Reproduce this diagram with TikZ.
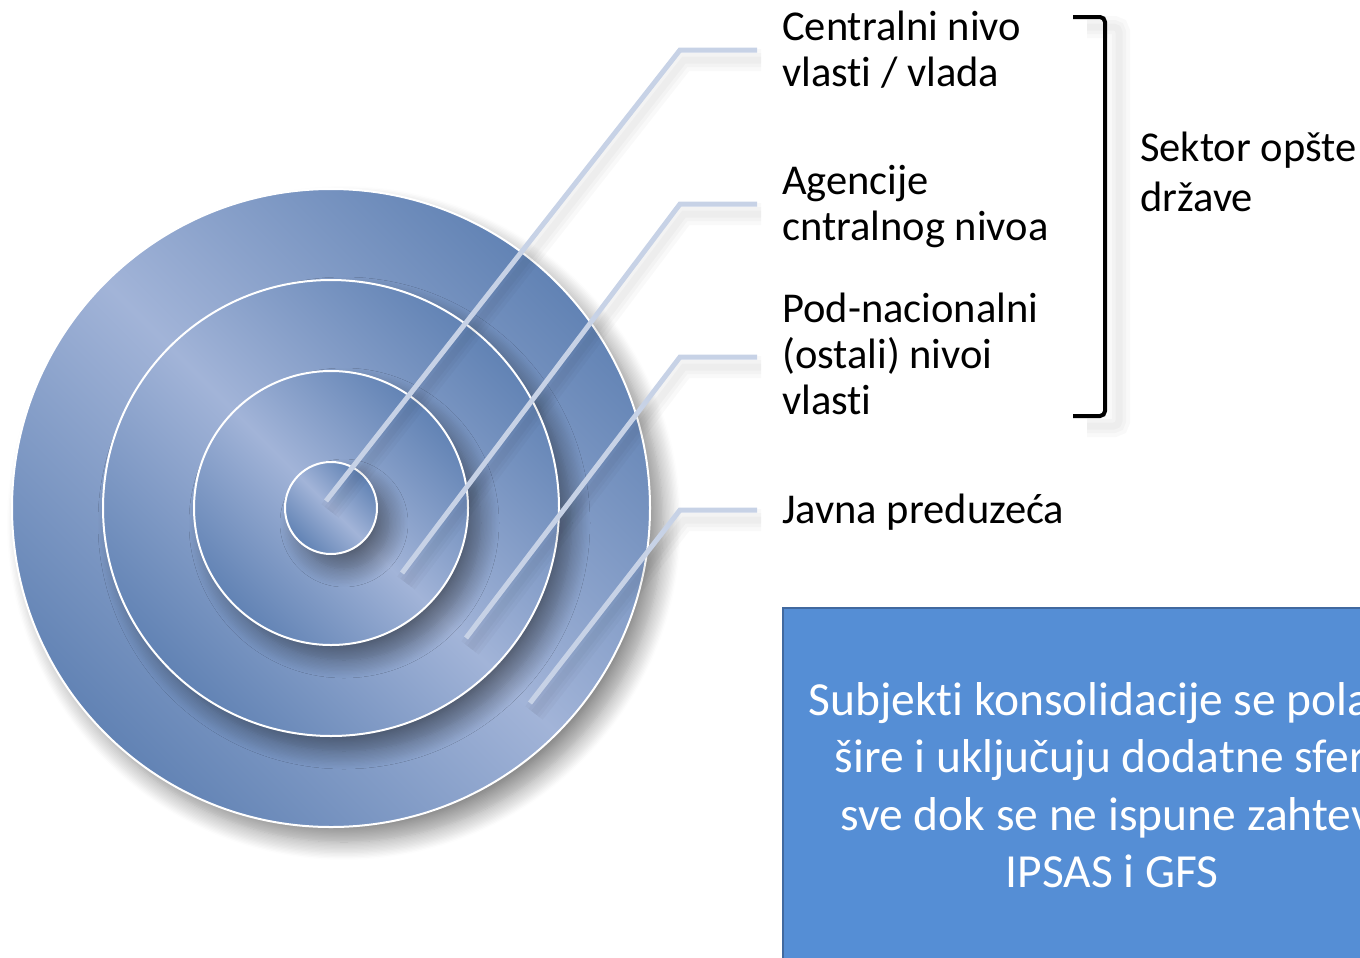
\documentclass[tikz,border=0pt]{standalone}
\usepackage{fontspec}
\setmainfont{Carlito}[Ligatures=NoCommon]
\usetikzlibrary{shadows.blur}
\definecolor{ringdark}{HTML}{5A7DB0}
\definecolor{ringlight}{HTML}{A2B4D8}
\definecolor{leadercol}{HTML}{C7D2E6}
\definecolor{notefill}{HTML}{558ED5}
\definecolor{notedraw}{HTML}{41699F}
\pgfdeclarehorizontalshading{ringshade}{100bp}{color(0bp)=(ringdark); color(22bp)=(ringdark); color(50bp)=(ringlight); color(78bp)=(ringdark); color(100bp)=(ringdark)}
\begin{document}
\begin{tikzpicture}[x=1bp,y=-1bp,
	ring/.style={shading=ringshade,shading angle=45,draw=white,line width=2bp,
		blur shadow={shadow xshift=13bp,shadow yshift=-15bp,shadow blur radius=18bp,
			shadow blur steps=14,shadow opacity=45}},
	soft shadow/.style={
		preaction={draw=black,opacity=0.025,line width=22bp,transform canvas={xshift=#1,yshift=-10bp}},
		preaction={draw=black,opacity=0.025,line width=14bp,transform canvas={xshift=#1,yshift=-10bp}},
		preaction={draw=black,opacity=0.025,line width=7bp,transform canvas={xshift=#1,yshift=-10bp}}},
	leader/.style={draw=leadercol,line width=5bp,soft shadow=4bp},
	label/.style={anchor=base west,inner sep=0pt,align=left,font=\fontsize{42.5bp}{46bp}\selectfont}]
	% page frame
	\useasboundingbox (0,0) rectangle (1360,957);
	\clip (0,0) rectangle (1360,957);
	% the target
	\coordinate (o) at (331,508);
	\shadedraw[ring] (o) circle[radius=319];
	\shadedraw[ring] (o) circle[radius=228];
	\shadedraw[ring] (o) circle[radius=137];
	\shadedraw[ring] (o) circle[radius=46];
	% labels (placed by the baseline of their last line)
	\node[label] (cent) at (782,86) {Centralni nivo\\vlasti / vlada};
	\node[label] (agen) at (782,240) {Agencije\\cntralnog nivoa};
	\node[label] (pod) at (782,414) {Pod-nacionalni\\(ostali) nivoi\\vlasti};
	\node[label] (javna) at (782,523) {Javna preduzeća};
	% leaders from the rings to the labels
	\coordinate (c1) at (326,501);
	\coordinate (c2) at (402,573);
	\coordinate (c3) at (466,638);
	\coordinate (c4) at (530,703);
	\coordinate (k1) at (680,50);
	\coordinate (k2) at (680,204);
	\coordinate (k3) at (680,357);
	\coordinate (k4) at (680,510);
	\coordinate (e1) at (757,50);
	\coordinate (e2) at (757,204);
	\coordinate (e3) at (757,357);
	\coordinate (e4) at (757,510);
	\draw[leader] (c1) -- (k1) -- (e1);
	\draw[leader] (c2) -- (k2) -- (e2);
	\draw[leader] (c3) -- (k3) -- (e3);
	\draw[leader] (c4) -- (k4) -- (e4);
	% the bracket
	\draw[line width=4bp,rounded corners=5bp,soft shadow=14bp]
		(1073,17) -- (1105,17) -- (1105,416) -- (1073,416);
	\node[label,font=\fontsize{42.5bp}{50bp}\selectfont] (sektor) at (1140,211) {Sektor opšte\\države};
	% the note box
	\node[draw=notedraw,fill=notefill,line width=1.5bp,text=white,align=center,
		minimum width=658bp,minimum height=354bp,
		font=\fontsize{47.5bp}{57.5bp}\selectfont] (note) at (1112,785)
		{Subjekti konsolidacije se polako\\šire i uključuju dodatne sfere\\sve dok se ne ispune zahtevi\\IPSAS i GFS};
\end{tikzpicture}
\end{document}
